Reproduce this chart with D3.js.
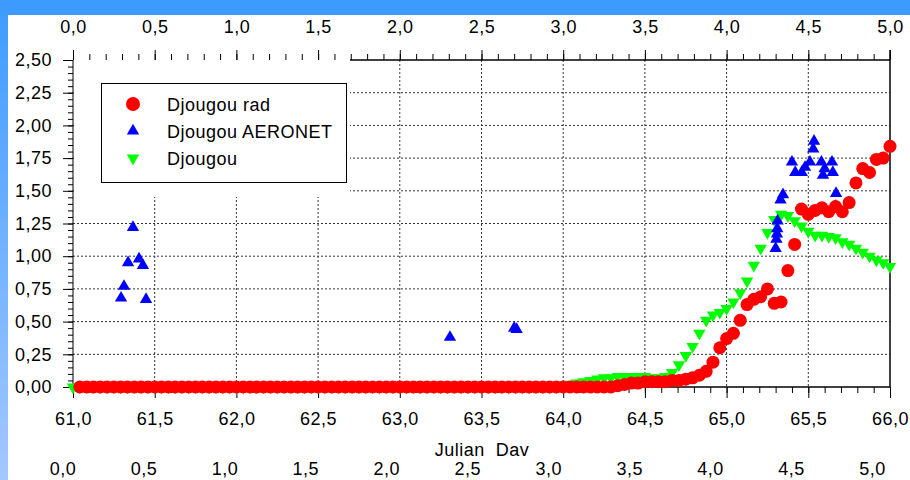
<!DOCTYPE html>
<html>
<head>
<meta charset="utf-8">
<script src="https://cdn.jsdelivr.net/npm/d3@7"></script>
<style>
  body { margin: 0; background: #fff; }
  svg text { font-family: "Liberation Sans", Arial, sans-serif; font-size: 18px; letter-spacing: 0.5px; fill: #000; }
</style>
</head>
<body>
<div id="chart"></div>
<script>
// hourly series, step = 1 hour (1/24 day)
// Djougou rad starts at day 61 + 1h, Djougou (model) starts at day 61.0
var redY = [
  0,0,0,0,0,0,0,0,0,0,0,0,0,0,0,0,0,0,0,0,0,0,0,0,
  0,0,0,0,0,0,0,0,0,0,0,0,0,0,0,0,0,0,0,0,0,0,0,0,
  0,0,0,0,0,0,0,0,0,0,0,0,0,0,0,0,0,0,0,0,0,0,0,0,
  0,0,0,0,0,0,0,
  0.01,0.02,0.03,0.03,0.04,0.04,0.04,0.04,0.05,0.05,0.06,0.07,0.09,0.12,0.19,0.30,
  0.37,0.41,0.51,0.63,0.67,0.69,0.75,0.64,0.65,0.89,1.09,1.36,1.32,1.35,1.37,1.34,
  1.38,1.34,1.41,1.56,1.67,1.64,1.74,1.75,1.84
];
var greenY = [
  0,0,0,0,0,0,0,0,0,0,0,0,0,0,0,0,0,0,0,0,0,0,0,0,
  0,0,0,0,0,0,0,0,0,0,0,0,0,0,0,0,0,0,0,0,0,0,0,0,
  0,0,0,0,0,0,0,0,0,0,0,0,0,0,0,0,0,0,0,0,0,0,0,0,
  0.01,0.02,0.03,0.04,0.05,0.06,0.07,0.07,0.08,0.08,0.08,0.08,0.08,0.07,0.07,0.08,
  0.11,0.17,0.24,0.31,0.41,0.51,0.55,0.57,0.60,0.65,0.72,0.81,0.93,1.06,1.18,1.28,
  1.32,1.31,1.27,1.23,1.19,1.16,1.16,1.15,1.14,1.11,1.09,1.06,1.03,1.00,0.97,0.95,
  0.92
];
// AERONET points (irregular times)
var blueDay = [61.294,61.312,61.337,61.367,61.404,61.428,61.447,63.307,63.700,63.715,
  65.300,65.305,65.308,65.310,65.312,65.330,65.345,65.400,65.420,65.460,65.480,65.510,
  65.530,65.535,65.580,65.590,65.600,65.645,65.650,65.665,65.670];
var blueAod = [0.68,0.77,0.95,1.22,0.98,0.93,0.67,0.38,0.45,0.44,
  1.06,1.13,1.17,1.21,1.27,1.43,1.47,1.72,1.64,1.64,1.68,1.72,
  1.82,1.88,1.72,1.62,1.67,1.72,1.64,1.38,1.48];

var seriesNames = ["Djougou rad", "Djougou AERONET", "Djougou"];
var yTicks = [0, 0.25, 0.5, 0.75, 1, 1.25, 1.5, 1.75, 2, 2.25, 2.5];
var xTicks = [61, 61.5, 62, 62.5, 63, 63.5, 64, 64.5, 65, 65.5, 66];
var relTicks = [0, 0.5, 1, 1.5, 2, 2.5, 3, 3.5, 4, 4.5, 5];

var W = 910, H = 480;
var svg = d3.select("#chart").append("svg").attr("width", W).attr("height", H);

// blue frame
var grad = svg.append("defs").append("linearGradient")
  .attr("id", "side").attr("x1", 0).attr("y1", 0).attr("x2", 0).attr("y2", 1);
grad.append("stop").attr("offset", "0%").attr("stop-color", "#3d9bff");
grad.append("stop").attr("offset", "100%").attr("stop-color", "#a3c8ff");
svg.append("rect").attr("x", 0).attr("y", 0).attr("width", 8).attr("height", H).attr("fill", "url(#side)");
svg.append("rect").attr("x", 0).attr("y", 0).attr("width", W).attr("height", 15).attr("fill", "#3d9bff");

var x = d3.scaleLinear().domain([61, 66]).range([73, 890]);
var xRel = d3.scaleLinear().domain([0, 5]).range([62.5, 872]);
var y = d3.scaleLinear().domain([0, 2.5]).range([387, 60]);
var comma = function(f) { return function(d) { return d3.format(f)(d).replace(".", ","); }; };

// grid
svg.append("g").selectAll("line").data(xTicks.slice(1, -1)).enter().append("line")
  .attr("x1", d => x(d)).attr("x2", d => x(d)).attr("y1", y(2.5)).attr("y2", y(0))
  .attr("stroke", "#333").attr("stroke-dasharray", "2,2");
svg.append("g").selectAll("line").data(yTicks.slice(1, -1)).enter().append("line")
  .attr("x1", x(61)).attr("x2", x(66)).attr("y1", d => y(d)).attr("y2", d => y(d))
  .attr("stroke", "#333").attr("stroke-dasharray", "2,2");

// legend backdrop hides grid in the top-left corner
svg.append("rect").attr("x", 74).attr("y", 59).attr("width", 276).attr("height", 138).attr("fill", "#fff");

function styleAxis(g) {
  g.attr("font-family", null).attr("font-size", null);
  g.select(".domain").remove();
  g.selectAll("line").attr("stroke", "#000");
}

// bottom axis
svg.append("g").attr("transform", "translate(0,387)")
  .call(d3.axisBottom(x).tickValues(d3.range(61, 66.001, 0.1)).tickSize(6).tickFormat(""))
  .call(styleAxis);
svg.append("g").attr("transform", "translate(0,387)")
  .call(d3.axisBottom(x).tickValues(xTicks).tickSize(11).tickPadding(14).tickFormat(comma(".1f")))
  .call(styleAxis);
// top axis
svg.append("g").attr("transform", "translate(0,60)")
  .call(d3.axisTop(x).tickValues(d3.range(61, 66.001, 0.1)).tickSize(6).tickFormat(""))
  .call(styleAxis);
svg.append("g").attr("transform", "translate(0,60)")
  .call(d3.axisTop(x).tickValues(xTicks).tickSize(10).tickPadding(17)
    .tickFormat(d => comma(".1f")(d - 61)))
  .call(styleAxis);
// left axis
svg.append("g").attr("transform", "translate(73,0)")
  .call(d3.axisLeft(y).tickValues(d3.range(0, 2.501, 0.05)).tickSize(5).tickFormat(""))
  .call(styleAxis);
svg.append("g").attr("transform", "translate(73,0)")
  .call(d3.axisLeft(y).tickValues(yTicks).tickSize(10).tickPadding(11).tickFormat(comma(".2f")))
  .call(styleAxis);
// second bottom scale
svg.append("g").attr("transform", "translate(0,462)")
  .call(d3.axisBottom(xRel).tickValues(relTicks).tickSize(0).tickPadding(0).tickFormat(comma(".1f")))
  .call(styleAxis);

// frame lines
svg.append("line").attr("x1", 73).attr("x2", 73).attr("y1", 60).attr("y2", 387).attr("stroke", "#000");
svg.append("line").attr("x1", 73).attr("x2", 890).attr("y1", 387).attr("y2", 387).attr("stroke", "#000").attr("stroke-width", 1.5);
svg.append("line").attr("x1", 350).attr("x2", 890).attr("y1", 60).attr("y2", 60).attr("stroke", "#000").attr("stroke-width", 1.5);
svg.append("line").attr("x1", 890).attr("x2", 890).attr("y1", 50).attr("y2", 387).attr("stroke", "#000").attr("stroke-width", 1.5);

svg.append("text").attr("x", 482).attr("y", 456).attr("text-anchor", "middle")
  .style("white-space", "pre").text("Julian  Dav");

// data
var greenPts = greenY.map((v, k) => ({ day: 61 + k / 24, v: v }));
var redPts = redY.map((v, k) => ({ day: 61 + (k + 1) / 24, v: v }));
var bluePts = blueDay.map((d, k) => ({ day: d, v: blueAod[k] }));
var tri = d3.symbol().type(d3.symbolTriangle).size(66);

svg.append("g").selectAll("path").data(greenPts).enter().append("path")
  .attr("d", tri).attr("fill", "#00ff00")
  .attr("transform", d => "translate(" + x(d.day) + "," + y(d.v) + ") rotate(180)");
svg.append("g").selectAll("path").data(bluePts).enter().append("path")
  .attr("d", tri).attr("fill", "#0000ff")
  .attr("transform", d => "translate(" + x(d.day) + "," + y(d.v) + ")");
svg.append("g").selectAll("circle").data(redPts).enter().append("circle")
  .attr("cx", d => x(d.day)).attr("cy", d => y(d.v)).attr("r", 6.5).attr("fill", "#ff0000");

// legend
var lg = svg.append("g");
lg.append("rect").attr("x", 101.5).attr("y", 83.5).attr("width", 245).attr("height", 99)
  .attr("fill", "#fff").attr("stroke", "#000");
var rows = [104, 131, 158];
lg.append("circle").attr("cx", 133).attr("cy", rows[0]).attr("r", 7).attr("fill", "#ff0000");
lg.append("path").attr("d", tri).attr("fill", "#0000ff").attr("transform", "translate(133," + rows[1] + ")");
lg.append("path").attr("d", tri).attr("fill", "#00ff00").attr("transform", "translate(133," + rows[2] + ") rotate(180)");
lg.selectAll("text").data(seriesNames).enter().append("text")
  .attr("x", 167).attr("y", (d, k) => rows[k] + 6.5).text(d => d);
</script>
</body>
</html>
